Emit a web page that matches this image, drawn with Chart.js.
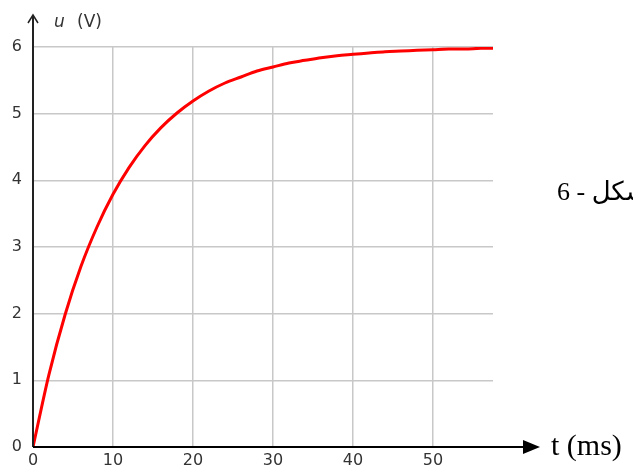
<!DOCTYPE html>
<html>
<head>
<meta charset="utf-8">
<script src="https://cdn.jsdelivr.net/npm/chart.js@4"></script>
<style>
  body { margin: 0; background: #fff; }
  canvas { display: block; }
</style>
</head>
<body>
<canvas id="chart1" width="633" height="468"></canvas>
<script>
// time in ms and voltage u in V
const tempos = [0, 2, 4, 6, 8, 10, 12, 14, 16, 18, 20, 22, 24, 26, 28, 30, 32, 34, 36, 38, 40, 42, 44, 46, 48, 50, 52, 54, 56, 57.5];
const tensoes = [0, 1.09, 1.98, 2.71, 3.30, 3.79, 4.19, 4.52, 4.79, 5.01, 5.19, 5.34, 5.46, 5.55, 5.64, 5.70, 5.76, 5.80, 5.84, 5.87, 5.89, 5.91, 5.93, 5.94, 5.95, 5.96, 5.97, 5.97, 5.98, 5.98];
const ticksX = [0, 10, 20, 30, 40, 50];
const ticksY = [0, 1, 2, 3, 4, 5, 6];

const fonteTicks = { family: 'DejaVu Sans', size: 16 };

// axes with arrows and the labels around the plot
const eixos = {
    id: 'eixos',
    afterDraw(chart) {
        const ctx = chart.ctx;
        const area = chart.chartArea;
        const x0 = chart.scales.x.getPixelForValue(0);
        const y0 = chart.scales.y.getPixelForValue(0);
        ctx.save();

        // y axis
        ctx.strokeStyle = '#222';
        ctx.lineWidth = 2;
        ctx.beginPath();
        ctx.moveTo(x0, y0);
        ctx.lineTo(x0, area.top - 32);
        ctx.stroke();
        ctx.lineWidth = 1.5;
        ctx.beginPath();
        ctx.moveTo(x0 - 5, area.top - 24);
        ctx.lineTo(x0, area.top - 32);
        ctx.lineTo(x0 + 5, area.top - 24);
        ctx.stroke();

        // x axis
        ctx.strokeStyle = '#000';
        ctx.lineWidth = 2;
        ctx.beginPath();
        ctx.moveTo(x0, y0);
        ctx.lineTo(area.right + 32, y0);
        ctx.stroke();
        ctx.fillStyle = '#000';
        ctx.beginPath();
        ctx.moveTo(area.right + 30, y0 - 7);
        ctx.lineTo(area.right + 47, y0);
        ctx.lineTo(area.right + 30, y0 + 7);
        ctx.closePath();
        ctx.fill();

        // u (V)
        ctx.fillStyle = '#333';
        ctx.textBaseline = 'alphabetic';
        ctx.textAlign = 'left';
        ctx.font = 'italic 17px "DejaVu Sans"';
        ctx.fillText('u', x0 + 21, area.top - 20);
        ctx.font = '17px "DejaVu Sans"';
        ctx.fillText('(V)', x0 + 44, area.top - 20);

        // t (ms)
        ctx.fillStyle = '#000';
        ctx.font = '30px "Liberation Serif"';
        ctx.fillText('t (ms)', area.right + 58, y0 + 8);

        // figure caption
        ctx.direction = 'rtl';
        ctx.textAlign = 'left';
        ctx.font = '26px "Liberation Serif", "DejaVu Sans"';
        ctx.fillText('شكل - 6', area.right + 64, 200);
        ctx.restore();
    }
};

const ctx1 = document.getElementById('chart1').getContext('2d');
const chart1 = new Chart(ctx1, {
    type: 'line',
    data: {
        datasets: [{
            data: tempos.map((t, i) => ({ x: t, y: tensoes[i] })),
            borderColor: '#ff0000',
            borderWidth: 3,
            pointRadius: 0,
            fill: false,
            cubicInterpolationMode: 'monotone'
        }]
    },
    options: {
        responsive: false,
        animation: false,
        layout: { padding: { top: 47, right: 140, left: 0, bottom: 0 } },
        plugins: {
            legend: { display: false },
            tooltip: { enabled: false }
        },
        scales: {
            x: {
                type: 'linear',
                min: 0,
                max: 57.5,
                afterBuildTicks: s => { s.ticks = ticksX.map(v => ({ value: v })); },
                afterFit: s => { s.height = 21; },
                border: { display: false },
                grid: { color: '#c8c8c8', lineWidth: 1.5, drawTicks: false },
                ticks: { color: '#333', font: fonteTicks, padding: 4, maxRotation: 0 }
            },
            y: {
                type: 'linear',
                min: 0,
                max: 6,
                afterBuildTicks: s => { s.ticks = ticksY.map(v => ({ value: v })); },
                afterFit: s => { s.width = 33; },
                border: { display: false },
                grid: { color: '#c8c8c8', lineWidth: 1.5, drawTicks: false },
                ticks: { color: '#333', font: fonteTicks, padding: 11 }
            }
        }
    },
    plugins: [eixos]
});
</script>
</body>
</html>
